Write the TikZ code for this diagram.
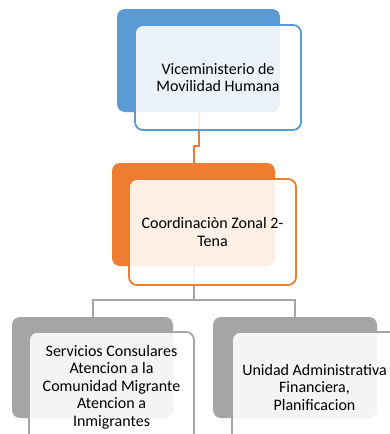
\documentclass[tikz,border=0pt]{standalone}
\usepackage{fontspec}
\setmainfont{Carlito}
\definecolor{cblue}{HTML}{5B9BD5}
\definecolor{corange}{HTML}{ED7D31}
\definecolor{cgrey}{HTML}{A5A5A5}
\begin{document}
\begin{tikzpicture}[x=1pt,y=-1pt,
  back/.style={rectangle,rounded corners=8pt,inner sep=0pt,draw=none},
  front/.style={rectangle,rounded corners=8pt,inner sep=0pt,line width=1.8pt,fill=white,fill opacity=0.88,text opacity=1,align=center,font=\fontsize{16}{17.5}\selectfont},
  conn/.style={line width=2pt}]
\useasboundingbox (0,0) rectangle (390,434);
\clip (0,0) rectangle (390,434);
% back boxes
\node[back,fill=cblue,minimum width=163pt,minimum height=103pt] (b1) at (198.5,60.5) {};
\node[back,fill=corange,minimum width=163pt,minimum height=103pt] (b2) at (193.5,214.5) {};
\node[back,fill=cgrey,minimum width=161pt,minimum height=101pt] (b3) at (92.5,367.5) {};
\node[back,fill=cgrey,minimum width=164pt,minimum height=101pt] (b4) at (295,367.5) {};
% connectors
\coordinate (k1) at (198.5,146);
\coordinate (k2) at (193.5,146);
\draw[conn,corange] (b1.south) -- (k1) -- (k2) -- (b2.north);
\coordinate (j0) at (193.5,300);
\coordinate (jl) at (92.5,300);
\coordinate (jr) at (295,300);
\draw[conn,cgrey] (b2.south) -- (j0);
\draw[conn,cgrey] (b3.north) -- (jl) -- (jr) -- (b4.north);
% front boxes
\node[front,draw=cblue,minimum width=166pt,minimum height=105pt] (f1) at (218,77.5) {Viceministerio de\\Movilidad Humana};
\node[front,draw=corange,minimum width=167pt,minimum height=106pt] (f2) at (212.5,232) {Coordinaciòn Zonal 2-\\Tena};
\node[front,draw=cgrey,minimum width=165pt,minimum height=110pt] (f3) at (111.5,387) {Servicios Consulares\\Atencion a la\\Comunidad Migrante\\Atencion a\\Inmigrantes};
\node[front,draw=cgrey,minimum width=165pt,minimum height=110pt] (f4) at (314.5,387) {Unidad Administrativa\\Financiera,\\Planificacion};
\end{tikzpicture}
\end{document}
